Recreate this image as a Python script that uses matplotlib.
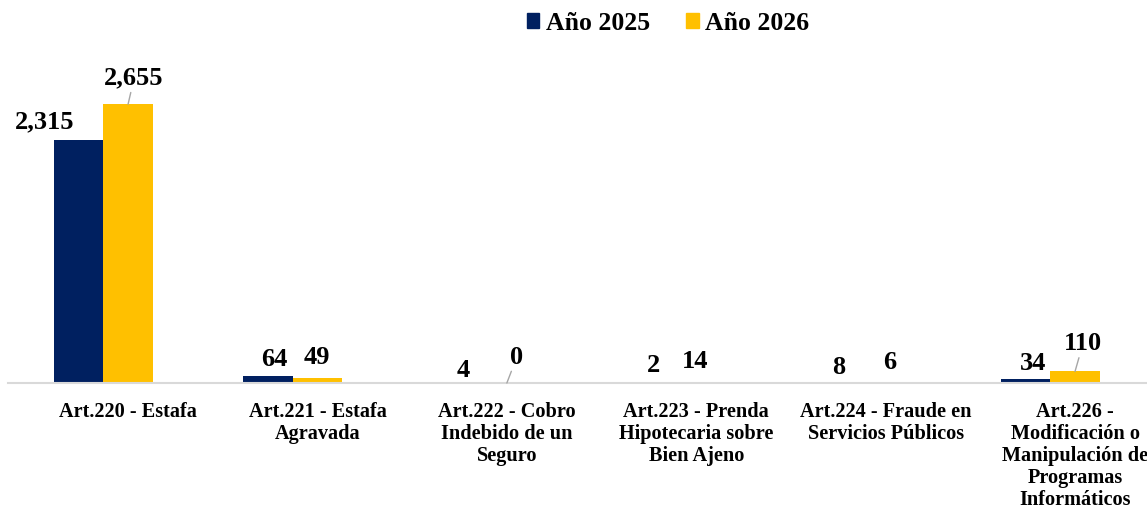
import numpy as np
import matplotlib
matplotlib.use("Agg")
import matplotlib.pyplot as plt
from matplotlib.patches import Patch

plt.rcParams['font.family'] = ['Liberation Serif', 'DejaVu Serif']

categories = ["Art.220 - Estafa",
              "Art.221 - Estafa\nAgravada",
              "Art.222 - Cobro\nIndebido de un\nSeguro",
              "Art.223 - Prenda\nHipotecaria sobre\nBien Ajeno",
              "Art.224 - Fraude en\nServicios Públicos",
              "Art.226 -\nModificación o\nManipulación de\nProgramas\nInformáticos"]
series_names = ["Año 2025", "Año 2026"]
vals_2025 = [2315, 64, 4, 2, 8, 34]
vals_2026 = [2655, 49, 0, 14, 6, 110]

# label offsets in pixels (dx, dy) for each bar, and which have leader lines
off_2025 = [(-34, 18), (6, 17), (6, 12), (7, 17), (2, 15), (7, 16)]
off_2026 = [(6, 26), (-1, 20), (10, 26), (-1, 20), (4, 20), (8, 28)]
lead_2026 = [True, False, True, False, False, True]

navy = '#002060'
gold = '#FFC000'

fig = plt.figure(figsize=(11.47, 5.08), dpi=100)
ax = fig.add_axes([8/1147, 125/508, 1139/1147, 315/508])

x = np.arange(len(categories))
w = 0.261
b1 = ax.bar(x - w, vals_2025, w, color=navy, align='center')
b2 = ax.bar(x, vals_2026, w, color=gold, align='center')

ax.set_xlim(-0.634, 5.38)
ax.set_ylim(0, 3000)

def label(bars, vals, offs, leads=None):
    for i, (bar, v) in enumerate(zip(bars, vals)):
        cx = bar.get_x() + bar.get_width() / 2
        kw = {}
        if leads and leads[i]:
            kw['arrowprops'] = dict(arrowstyle='-', color='#A6A6A6', lw=1,
                                    shrinkA=0, shrinkB=0)
        ax.annotate(f"{v:,}", xy=(cx, v), xytext=offs[i],
                    textcoords='offset pixels', ha='center', va='center',
                    fontsize=19, fontweight='bold', color='black', **kw)

label(b1, vals_2025, off_2025)
label(b2, vals_2026, off_2026, lead_2026)

for s in ['top', 'right', 'left']:
    ax.spines[s].set_visible(False)
ax.spines['bottom'].set_color('#D9D9D9')
ax.spines['bottom'].set_linewidth(1.5)
ax.set_yticks([])
ax.set_xticks(x)
ax.set_xticklabels(categories, fontsize=14.6, fontweight='bold',
                   linespacing=1.13, va='top')
ax.tick_params(axis='x', length=0, pad=13.5)

handles = [Patch(color=navy), Patch(color=gold)]
fig.legend(handles, series_names, loc='center', bbox_to_anchor=(0.5824, 0.954),
           ncol=2, frameon=False, prop={'size': 18.5, 'weight': 'bold'},
           handlelength=0.5, handleheight=0.5, handletextpad=0.25,
           columnspacing=1.4)

fig.savefig('out.png', dpi=100)
